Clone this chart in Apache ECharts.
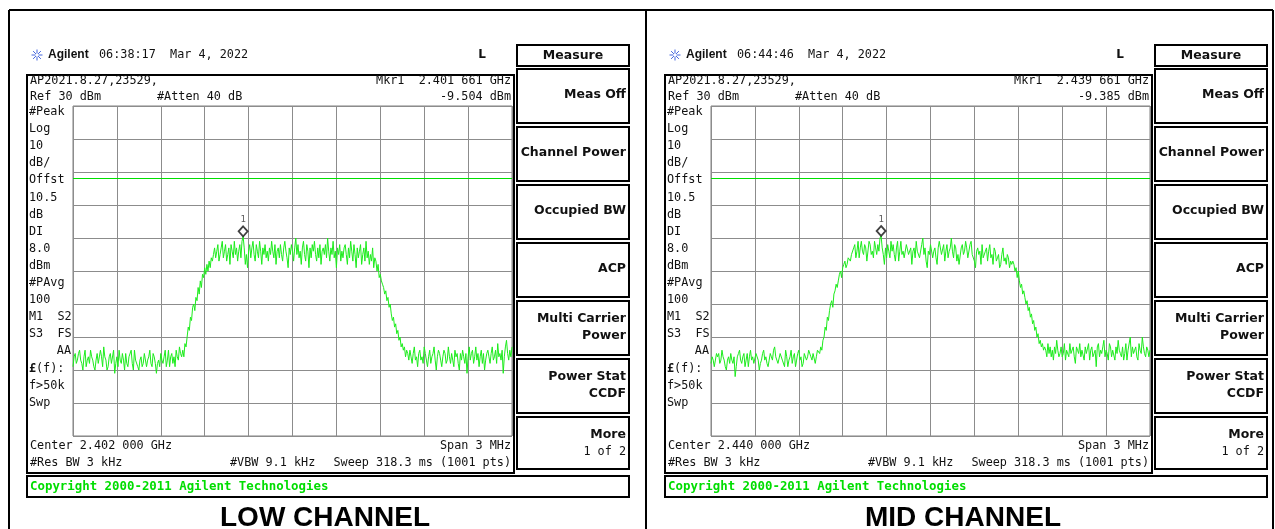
<!DOCTYPE html>
<html><head><meta charset="utf-8">
<script src="https://cdn.jsdelivr.net/npm/echarts/dist/echarts.min.js"></script>
<style>html,body{margin:0;padding:0;background:#fff}#c{width:1275px;height:529px}</style>
</head><body><div id="c"></div>
<script>
// ---- data (dBm values, 401 sweep samples across the 3 MHz span) ----
const lowTrace = [
-49,-46,-45,-48,-47,-45,-44,-47,-48,-50,-46,-44,-49,-47,-46,-48,-44,-46,-47,-49,
-50,-47,-45,-48,-48,-44,-46,-49,-43,-46,-47,-50,-49,-46,-45,-48,-48,-44,-51,-48,
-46,-49,-44,-47,-48,-45,-47,-50,-45,-48,-49,-46,-46,-44,-48,-50,-44,-47,-47,-49,
-50,-47,-46,-49,-48,-45,-45,-49,-47,-46,-44,-48,-49,-45,-46,-48,-51,-48,-47,-49,
-45,-47,-48,-46,-44,-49,-47,-44,-49,-46,-45,-48,-46,-49,-44,-46,-47,-43,-45,-46,
-44,-46,-42,-43,-40,-37,-38,-34,-35,-31,-30,-32,-28,-29,-25,-27,-23,-25,-21,-22,-19,-21,-18,-20,-17,-19,-16,-17,-15,
-13,-16,-14,-12,-17,-15,-13,-11,-16,-14,
-12,-17,-15,-13,-18,-12,-14,-16,-11,-15,
-13,-17,-14,-12,-16,-11,-9.504,-13,-18,-15,
-19,-14,-12,-16,-13,-11,-15,-17,-12,-14,
-16,-11,-14,-18,-13,-15,-12,-16,-14,-17,
-13,-15,-11,-14,-16,-12,-18,-14,-13,-16,
-12,-15,-17,-13,-11,-14,-16,-19,-13,-15,
-12,-14,-17,-13,-10,-15,-12,-16,-14,-18,
-13,-11,-15,-17,-12,-14,-19,-13,-16,-12,
-14,-11,-15,-17,-13,-16,-12,-18,-14,-13,
-15,-12,-16,-10,-14,-17,-13,-15,-11,-16,
-14,-19,-13,-15,-12,-17,-14,-16,-13,-12,
-15,-18,-13,-16,-11,-14,-17,-12,-15,-19,
-13,-16,-14,-12,-18,-15,-13,-17,-11,-16,
-14,-18,-15,-17,-13,-19,-16,
-17,-20,-18,-22,-21,-23,-24,-25,-27,-26,-29,-28,-31,-30,-33,-35,-34,-37,-36,-39,-38,-41,-40,-43,-42,-44,-43,-46,-44,
-45,-47,-44,-46,-48,-45,-43,-47,-46,-49,
-45,-44,-47,-46,-48,-43,-45,-47,-49,-46,
-44,-48,-46,-45,-43,-47,-50,-46,-44,-45,
-47,-49,-46,-44,-45,-48,-47,-43,-46,-48,
-45,-47,-49,-44,-46,-45,-48,-50,-45,-47,
-44,-46,-48,-45,-51,-46,-43,-47,-45,-44,
-48,-46,-43,-47,-45,-49,-46,-44,-48,-45,
-50,-47,-45,-44,-46,-48,-45,-43,-47,-46,
-44,-48,-42,-46,-45,-47,-44,-51,-46,-43,
-41,-45,-47,-44,-46,-43
];
const midTrace = [
-48,-46,-47,-49,-49,-45,-46,-45,-48,-47,
-44,-46,-47,-49,-50,-47,-46,-48,-45,-47,
-48,-46,-52,-49,-46,-45,-44,-47,-48,-46,
-45,-49,-47,-45,-49,-46,-44,-47,-46,-48,
-48,-45,-45,-47,-50,-48,-47,-45,-44,-47,
-46,-48,-49,-47,-45,-46,-47,-44,-43,-46,
-46,-48,-48,-45,-45,-47,-47,-49,-44,-46,
-49,-47,-46,-44,-48,-46,-45,-49,-47,-45,
-44,-47,-46,-49,-48,-45,-45,-47,-46,-44,
-44,-46,-47,-45,-45,-48,-46,-44,-44,-45,
-43,-44,-41,-40,-37,-38,-34,-35,-32,-30,-29,-31,-27,-26,-24,-25,-23,-21,-20,-22,-19,-18,-17,-19,-18,-16,-16,-17,-15,
-15,-13,-12,-16,-14,-11,-16,-13,-11,-14,
-15,-12,-13,-17,-17,-11,-12,-15,-14,-16,
-11,-13,-15,-12,-14,-10,-9.385,-13,-15,-18,
-13,-16,-12,-14,-16,-11,-14,-12,-15,-17,
-13,-11,-17,-14,-11,-15,-14,-16,-16,-12,
-12,-15,-15,-13,-18,-14,-13,-16,-11,-14,
-14,-16,-16,-12,-10,-15,-13,-17,-19,-14,
-15,-12,-12,-16,-14,-13,-16,-18,-13,-11,
-11,-15,-15,-12,-17,-14,-12,-16,-14,-13,
-10,-14,-16,-12,-13,-17,-15,-18,-18,-13,
-12,-15,-14,-11,-13,-16,-16,-12,-11,-15,
-15,-17,-19,-14,-13,-15,-14,-18,-12,-16,
-16,-14,-13,-17,-14,-12,-16,-15,-18,-13,
-14,-17,-16,-15,-19,-18,-15,-13,-17,-16,
-18,-15,-16,-19,-17,-18,-17,
-18,-20,-19,-22,-20,-23,-25,-24,-27,-26,-28,-30,-29,-32,-31,-34,-33,-36,-35,-38,-37,-40,-39,-42,-41,-43,-42,-44,-43,
-44,-46,-42,-45,-43,-46,-44,-47,-43,-45,
-41,-44,-46,-45,-43,-46,-45,-42,-47,-44,
-44,-46,-42,-45,-45,-43,-46,-48,-43,-44,
-45,-42,-46,-44,-44,-47,-43,-45,-45,-42,
-47,-44,-43,-46,-45,-44,-49,-43,-42,-46,
-44,-45,-43,-41,-46,-44,-45,-47,-42,-43,
-46,-44,-44,-47,-43,-45,-41,-44,-45,-46,
-43,-47,-45,-42,-47,-44,-44,-40,-46,-43,
-45,-44,-43,-46,-47,-42,-44,-45,-40,-43,
-45,-46,-43,-44,-46,-44
];
const markerIndex = 155;
const markerValues = [-9.504, -9.385];
const displayLine = 8;
const yTicks = {min: -70, max: 30, interval: 10};
const xTicks = {min: 0, max: 400, interval: 40};
const panelTexts = [
  {time: '06:38:17', mkrFreq: '2.401 661 GHz', mkrVal: '-9.504 dBm', center: 'Center 2.402 000 GHz', title: 'LOW CHANNEL'},
  {time: '06:44:46', mkrFreq: '2.439 661 GHz', mkrVal: '-9.385 dBm', center: 'Center 2.440 000 GHz', title: 'MID CHANNEL'}
];
const leftColumn = ['#Peak','Log','10','dB/','Offst','10.5','dB','DI','8.0','dBm','#PAvg','100','M1  S2','S3  FS','','','f>50k','Swp'];
const softkeys = [['Meas Off'],['Channel Power'],['Occupied BW'],['ACP'],['Multi Carrier','Power'],['Power Stat','CCDF'],['More','1 of 2']];

// ---- layout ----
const MONO = '"DejaVu Sans Mono", monospace';
const SANS = '"DejaVu Sans", sans-serif';
const ARIAL = '"Liberation Sans", Arial, sans-serif';
const DX = 638;
function T(x, y, text, o) {
  o = o || {};
  return {type: 'text', x: x, y: y, z: 10, silent: true,
    style: {text: text, fill: o.fill || '#111',
      font: (o.weight || 'normal') + ' ' + (o.size || 11.8) + 'px ' + (o.family || MONO),
      textAlign: o.align || 'left', textVerticalAlign: 'middle'}};
}
function R(x, y, w, h, lw) {
  return {type: 'rect', z: 9, silent: true, shape: {x: x, y: y, width: w, height: h},
    style: {fill: 'none', stroke: '#000', lineWidth: lw || 2}};
}
function L(x1, y1, x2, y2, c, lw) {
  return {type: 'line', z: 9, silent: true, shape: {x1: x1, y1: y1, x2: x2, y2: y2},
    style: {stroke: c || '#000', lineWidth: lw || 2}};
}
function panel(dx, p) {
  const g = [];
  const cx = 37 + dx, cy = 55;
  for (let k = 0; k < 8; k++) {
    const a = k * Math.PI / 4;
    g.push(L(cx + Math.cos(a) * 1.5, cy + Math.sin(a) * 1.5, cx + Math.cos(a) * 5.5, cy + Math.sin(a) * 5.5, '#4466dd', 1));
  }
  g.push(T(48 + dx, 55, 'Agilent', {weight: 'bold', size: 12, family: ARIAL}));
  g.push(T(99 + dx, 55, p.time + '  Mar 4, 2022'));
  g.push(T(482 + dx, 55, 'L', {weight: 'bold', size: 12, align: 'center', family: SANS}));
  g.push(R(517 + dx, 45, 112, 21));
  g.push(T(573 + dx, 56, 'Measure', {weight: 'bold', size: 12.5, family: SANS, align: 'center'}));
  softkeys.forEach(function (lines, k) {
    const top = 69 + k * 58;
    g.push(R(517 + dx, top, 112, k === 6 ? 52 : 54));
    const B = {weight: 'bold', size: 12.5, family: SANS, align: 'right'};
    if (lines.length === 1) {
      g.push(T(626 + dx, top + 26, lines[0], B));
    } else {
      g.push(T(626 + dx, top + 18, lines[0], B));
      g.push(T(626 + dx, top + 35, lines[1], k === 6 ? {align: 'right'} : B));
    }
  });
  g.push(R(27 + dx, 75, 487, 398));
  g.push(T(30 + dx, 81, 'AP2021.8.27,23529,'));
  g.push(T(511 + dx, 81, 'Mkr1  ' + p.mkrFreq, {align: 'right'}));
  g.push(T(30 + dx, 97, 'Ref 30 dBm'));
  g.push(T(157 + dx, 97, '#Atten 40 dB'));
  g.push(T(511 + dx, 97, p.mkrVal, {align: 'right'}));
  leftColumn.forEach(function (s, k) {
    if (s) g.push(T(29 + dx, 112 + k * 17.1, s));
  });
  g.push(T(71 + dx, 112 + 14 * 17.1, 'AA', {align: 'right'}));
  g.push(T(29 + dx, 112 + 15 * 17.1, '£', {weight: 'bold'}));
  g.push(T(36 + dx, 112 + 15 * 17.1, '(f):'));
  g.push(T(30 + dx, 446, p.center));
  g.push(T(511 + dx, 446, 'Span 3 MHz', {align: 'right'}));
  g.push(T(30 + dx, 463, '#Res BW 3 kHz'));
  g.push(T(230 + dx, 463, '#VBW 9.1 kHz'));
  g.push(T(511 + dx, 463, 'Sweep 318.3 ms (1001 pts)', {align: 'right'}));
  g.push(R(27 + dx, 476, 602, 21));
  g.push(T(30 + dx, 487, 'Copyright 2000-2011 Agilent Technologies', {weight: 'bold', size: 12.4, fill: '#00dd00'}));
  g.push(T(325 + dx, 518, p.title, {weight: 'bold', size: 28, family: ARIAL, align: 'center', fill: '#000'}));
  return g;
}
let graphics = [];
graphics.push(L(9, 10, 1273, 10), L(9, 10, 9, 529), L(646, 10, 646, 529), L(1273, 10, 1273, 529));
graphics = graphics.concat(panel(0, panelTexts[0]), panel(DX, panelTexts[1]));

const grids = [0, 1].map(function (k) {
  return {left: 73 + k * DX, top: 106, width: 439, height: 330, show: true, borderColor: '#808080', borderWidth: 1};
});
function axisBase(k, t) {
  return {type: 'value', gridIndex: k, min: t.min, max: t.max, interval: t.interval,
    axisLabel: {show: false}, axisTick: {show: false}, axisLine: {show: false},
    splitLine: {show: true, lineStyle: {color: '#8c8c8c', width: 1}}};
}
const traces = [lowTrace, midTrace];
const series = [];
traces.forEach(function (tr, k) {
  series.push({type: 'line', xAxisIndex: k, yAxisIndex: k, showSymbol: false, symbol: 'none',
    data: tr.map(function (v, i) { return [i, v]; }),
    lineStyle: {color: '#1cec1c', width: 1}, z: 3,
    markLine: {silent: true, symbol: ['none', 'none'], label: {show: false}, animation: false,
      lineStyle: {color: '#00e000', type: 'solid', width: 1}, data: [{yAxis: displayLine}]}});
  series.push({type: 'scatter', xAxisIndex: k, yAxisIndex: k, z: 5,
    data: [[markerIndex, markerValues[k]]], symbol: 'diamond', symbolSize: [9, 10], symbolOffset: [0, -5],
    itemStyle: {color: '#fff', borderColor: '#111', borderWidth: 1.8},
    label: {show: true, formatter: '1', position: 'top', distance: 1, fontSize: 9, color: '#333', fontFamily: MONO}});
});

const chart = echarts.init(document.getElementById('c'), null, {renderer: 'canvas'});
chart.setOption({
  animation: false, backgroundColor: '#fff',
  grid: grids, xAxis: [axisBase(0, xTicks), axisBase(1, xTicks)], yAxis: [axisBase(0, yTicks), axisBase(1, yTicks)],
  series: series, graphic: graphics
});
</script></body></html>
